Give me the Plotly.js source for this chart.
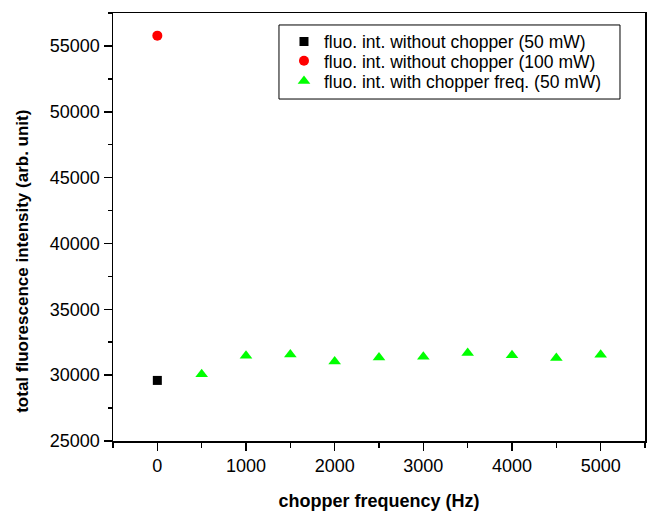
<!DOCTYPE html>
<html>
<head>
<meta charset="utf-8">
<script src="https://cdn.plot.ly/plotly-3.0.1.min.js"></script>
<style>html,body{margin:0;padding:0;background:#fff;}#chart{width:647px;height:511px;}</style>
</head>
<body>
<div id="chart"></div>
<script>
// Data
const freqNoChopper50 = [0];
const intNoChopper50 = [29600];
const freqNoChopper100 = [0];
const intNoChopper100 = [55780];
const freqChopper = [500, 1000, 1500, 2000, 2500, 3000, 3500, 4000, 4500, 5000];
const intChopper = [30060, 31470, 31575, 31035, 31350, 31390, 31690, 31505, 31300, 31550];

const seriesNames = [
  'fluo. int. without chopper (50 mW)',
  'fluo. int. without chopper (100 mW)',
  'fluo. int. with chopper freq. (50 mW)'
];
const xTitle = 'chopper frequency (Hz)';
const yTitle = 'total fluorescence intensity (arb. unit)';

const FONT = 'Liberation Sans, Arial, Helvetica, sans-serif';

const traces = [
  {x: freqNoChopper50, y: intNoChopper50, name: seriesNames[0], mode: 'markers', type: 'scatter',
   legend: 'legend', marker: {symbol: 'square', size: 9, color: '#000000'}},
  {x: freqNoChopper100, y: intNoChopper100, name: seriesNames[1], mode: 'markers', type: 'scatter',
   legend: 'legend2', marker: {symbol: 'circle', size: 10, color: '#ff0000'}},
  {x: freqChopper, y: intChopper, name: seriesNames[2], mode: 'markers', type: 'scatter',
   legend: 'legend3', marker: {symbol: 'triangle-up', size: 11, color: '#00ff00'}}
];

function legendRow(yPaper) {
  return {
    x: 0.3214, y: yPaper, xanchor: 'left', yanchor: 'middle',
    borderwidth: 0, bgcolor: 'rgba(0,0,0,0)',
    font: {family: FONT, size: 17.5, color: '#000'}, itemsizing: 'trace'
  };
}

const layout = {
  width: 647, height: 511,
  margin: {l: 113, r: 2, t: 13, b: 70, pad: 0},
  paper_bgcolor: '#ffffff', plot_bgcolor: '#ffffff',
  font: {family: FONT, size: 18, color: '#000'},
  showlegend: true,
  legend: legendRow(0.933),
  legend2: legendRow(0.888),
  legend3: legendRow(0.841),
  shapes: [{
    type: 'rect', xref: 'paper', yref: 'paper',
    x0: 0.312, x1: 0.953, y0: 0.799, y1: 0.972,
    line: {color: '#000', width: 1}, fillcolor: 'rgba(0,0,0,0)', layer: 'above'
  }],
  annotations: [{
    text: '<b>' + yTitle + '</b>', textangle: -90,
    xref: 'paper', yref: 'paper', x: -0.170, y: 0.42,
    xanchor: 'center', yanchor: 'middle', showarrow: false,
    font: {family: FONT, size: 17, color: '#000'}
  }],
  xaxis: {
    range: [-500, 5500], dtick: 1000, tick0: 0,
    ticks: 'outside', ticklen: 8, tickwidth: 1.5, tickcolor: '#000',
    minor: {dtick: 500, tick0: 0, ticks: 'outside', ticklen: 5, tickwidth: 1.5, tickcolor: '#000'},
    showline: true, linecolor: '#000', linewidth: 1.5, mirror: true,
    showgrid: false, zeroline: false, tickformat: 'd',
    tickfont: {family: FONT, size: 18, color: '#000'},
    title: {text: '<b>' + xTitle + '</b>', font: {family: FONT, size: 18, color: '#000'}, standoff: 25}
  },
  yaxis: {
    range: [25000, 57500], dtick: 5000, tick0: 25000,
    ticks: 'outside', ticklen: 8, tickwidth: 1.5, tickcolor: '#000',
    minor: {dtick: 2500, tick0: 25000, ticks: 'outside', ticklen: 4, tickwidth: 1.5, tickcolor: '#000'},
    showline: true, linecolor: '#000', linewidth: 1.5, mirror: true,
    showgrid: false, zeroline: false, tickformat: 'd',
    tickfont: {family: FONT, size: 18, color: '#000'}
  }
};

Plotly.newPlot('chart', traces, layout, {displayModeBar: false, staticPlot: true});
</script>
</body>
</html>
